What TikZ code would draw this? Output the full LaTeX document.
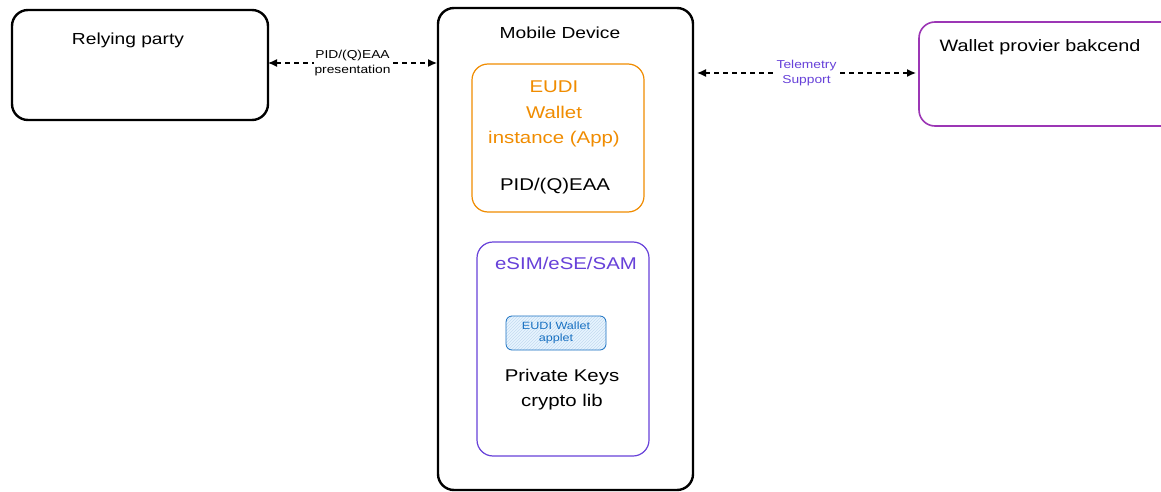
\documentclass[tikz,border=0pt]{standalone}
\usepackage{fontspec}
\setmainfont[FakeStretch=1.2]{Liberation Sans}
\usetikzlibrary{arrows.meta,patterns}
\definecolor{exorange}{HTML}{F08C00}
\definecolor{exviolet}{HTML}{6741D9}
\definecolor{exgrape}{HTML}{9C36B5}
\definecolor{exblue}{HTML}{1971C2}
\definecolor{exbluefill}{HTML}{E7F5FF}
\tikzset{
  box/.style={draw, line width=2.4pt, rounded corners=16pt},
  thinbox/.style={draw, line width=1.2pt, rounded corners=16pt},
  lbl/.style={font=\fontsize{16}{20}\selectfont, align=center, inner sep=0pt},
  small/.style={font=\fontsize{11.5}{15}\selectfont, align=center, inner sep=1pt, fill=white},
  conn/.style={dashed, dash pattern=on 5pt off 4pt, line width=1.3pt, {Latex[length=9pt,width=8pt]}-{Latex[length=9pt,width=8pt]}},
}
\begin{document}
\begin{tikzpicture}[x=1pt,y=-1pt]
\useasboundingbox (0,0) rectangle (1161,492);
\fill[white] (0,0) rectangle (1161,492);
\clip (0,0) rectangle (1161,492);
% Relying party
\draw[box] (12,10) rectangle (268,120);
\node[lbl] (rptext) at (128,40) {Relying party};
\coordinate (rp) at (268,63);
% Mobile device
\draw[box] (438,8) rectangle (693,490);
\node[lbl] (mdtext) at (560,33) {Mobile Device};
\coordinate (mdl) at (437,63);
\coordinate (mdr) at (697,73);
% EUDI wallet
\draw[thinbox, exorange] (472,64) rectangle (644,212);
\node[lbl, text=exorange, font=\fontsize{17}{25.5}\selectfont] (eudi) at (554,114) {EUDI\\Wallet\\instance (App)};
\node[lbl, font=\fontsize{17}{20}\selectfont] (pid) at (555,186) {PID/(Q)EAA};
% eSIM
\draw[thinbox, exviolet] (477,242) rectangle (649,456);
\node[lbl, text=exviolet, font=\fontsize{17}{20}\selectfont] (esim) at (566,263) {eSIM/eSE/SAM};
\draw[exblue, line width=0.8pt, rounded corners=6pt, preaction={fill=exbluefill}, pattern=north east lines, pattern color=exblue!25] (506,316) rectangle (606,350);
\node[font=\fontsize{10.5}{12.5}\selectfont, text=exblue, align=center, inner sep=0pt] (applet) at (556,333) {EUDI Wallet\\applet};
\node[lbl, font=\fontsize{17}{25}\selectfont] (pk) at (562,390) {Private Keys\\crypto lib};
% Wallet provider backend
\draw[box, exgrape, line width=1.6pt] (919,22) rectangle (1185,126);
\node[lbl, font=\fontsize{16.5}{20}\selectfont] (wptext) at (1040,47) {Wallet provier bakcend};
\coordinate (wp) at (916,73);
% connectors
\draw[conn] (rp) -- (mdl) node[small, midway] (l1) {PID/(Q)EAA\\presentation};
\draw[conn] (mdr) -- (wp) node[small, midway, text=exviolet] (l2) {Telemetry\\Support};
\end{tikzpicture}
\end{document}
